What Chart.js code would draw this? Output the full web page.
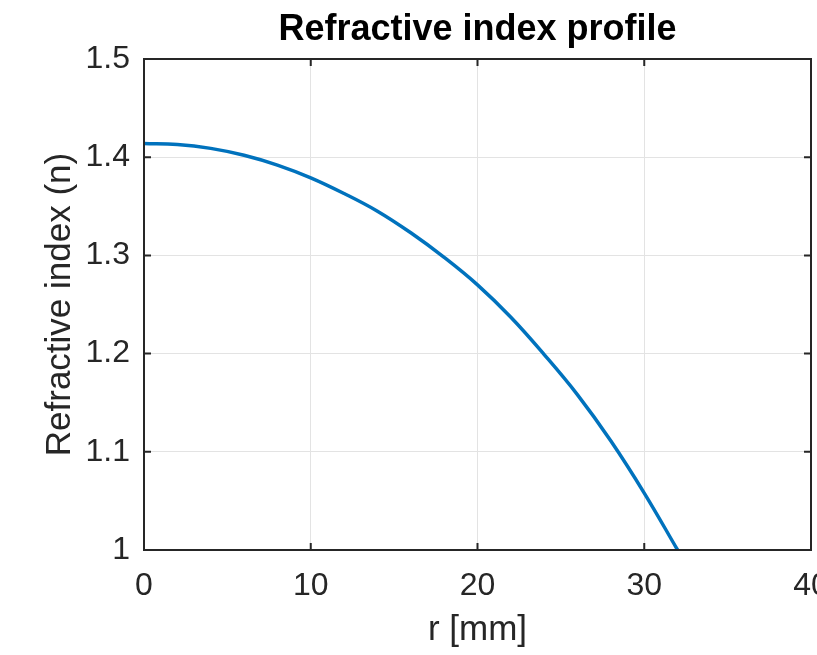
<!DOCTYPE html>
<html>
<head>
<meta charset="utf-8">
<script src="https://cdn.jsdelivr.net/npm/chart.js@4"></script>
<style>
  html, body { margin: 0; padding: 0; overflow: hidden; background: #fff; }
</style>
</head>
<body>
<canvas id="profileChart" width="817" height="655"></canvas>
<script>
// ===== data =====
const radius = [0, 2, 4, 6, 8, 10, 12, 14, 16, 18, 20, 22, 24, 26, 28, 30, 32];
const nIndex = [1.414, 1.413, 1.409, 1.402, 1.392, 1.379, 1.363, 1.345, 1.323, 1.298, 1.270, 1.237, 1.199, 1.158, 1.111, 1.058, 1.000];
const xTicks = [0, 10, 20, 30, 40];
const xTickLabels = ['0', '10', '20', '30', '40'];
const yTicks = [1, 1.1, 1.2, 1.3, 1.4, 1.5];
const yTickLabels = ['1', '1.1', '1.2', '1.3', '1.4', '1.5'];

const axisColor = '#262626';
const fontFamily = 'Arial, "Liberation Sans", Helvetica, sans-serif';

// MATLAB-style box + inward ticks on all four sides
const boxTicks = {
    id: 'boxTicks',
    afterDraw(chart) {
        const { ctx, chartArea: a, scales } = chart;
        const len = 7;
        ctx.save();
        ctx.strokeStyle = axisColor;
        ctx.lineWidth = 2;
        ctx.strokeRect(a.left, a.top, a.right - a.left, a.bottom - a.top);
        ctx.beginPath();
        xTicks.forEach(v => {
            const px = scales.x.getPixelForValue(v);
            ctx.moveTo(px, a.bottom); ctx.lineTo(px, a.bottom - len);
            ctx.moveTo(px, a.top); ctx.lineTo(px, a.top + len);
        });
        yTicks.forEach(v => {
            const py = scales.y.getPixelForValue(v);
            ctx.moveTo(a.left, py); ctx.lineTo(a.left + len, py);
            ctx.moveTo(a.right, py); ctx.lineTo(a.right - len, py);
        });
        ctx.stroke();
        ctx.restore();
    }
};

new Chart(document.getElementById('profileChart'), {
    type: 'line',
    data: {
        datasets: [{
            data: radius.map((r, i) => ({ x: r, y: nIndex[i] })),
            borderColor: '#0072BD',
            borderWidth: 3.5,
            pointRadius: 0,
            tension: 0.4,
            fill: false
        }]
    },
    options: {
        responsive: false,
        devicePixelRatio: 1,
        animation: false,
        layout: { padding: { left: 0, right: 6, top: 0, bottom: 0 } },
        plugins: {
            legend: { display: false },
            tooltip: { enabled: false },
            title: {
                display: true,
                text: 'Refractive index profile',
                fullSize: false,
                color: '#000',
                font: { family: fontFamily, size: 36, weight: 'bold', lineHeight: 1.2 },
                padding: { top: 8, bottom: 7.8 }
            }
        },
        scales: {
            x: {
                type: 'linear',
                min: 0, max: 40,
                afterBuildTicks: s => { s.ticks = xTicks.map(v => ({ value: v })); },
                afterFit: s => { s.height = 105; s.paddingLeft = 0; s.paddingRight = 0; },
                grid: { color: '#e3e3e3', lineWidth: 1, drawTicks: false },
                border: { color: axisColor, width: 2 },
                ticks: { color: axisColor, padding: 17, maxRotation: 0, autoSkip: false,
                         callback: (v, i) => xTickLabels[i],
                         font: { family: fontFamily, size: 32 } },
                title: { display: true, text: 'r [mm]', color: axisColor,
                         font: { family: fontFamily, size: 35, lineHeight: 1.2 },
                         padding: { top: 0, bottom: 4 } }
            },
            y: {
                type: 'linear',
                min: 1, max: 1.5,
                afterBuildTicks: s => { s.ticks = yTicks.map(v => ({ value: v })); },
                afterFit: s => { s.width = 144; },
                grid: { color: '#e3e3e3', lineWidth: 1, drawTicks: false },
                border: { color: axisColor, width: 2 },
                ticks: { color: axisColor, padding: 14, autoSkip: false,
                         callback: (v, i) => yTickLabels[i],
                         font: { family: fontFamily, size: 32 } },
                title: { display: true, text: 'Refractive index (n)', color: axisColor,
                         font: { family: fontFamily, size: 35, lineHeight: 1.2 },
                         padding: { top: 39, bottom: 0 } }
            }
        }
    },
    plugins: [boxTicks]
});
</script>
</body>
</html>
